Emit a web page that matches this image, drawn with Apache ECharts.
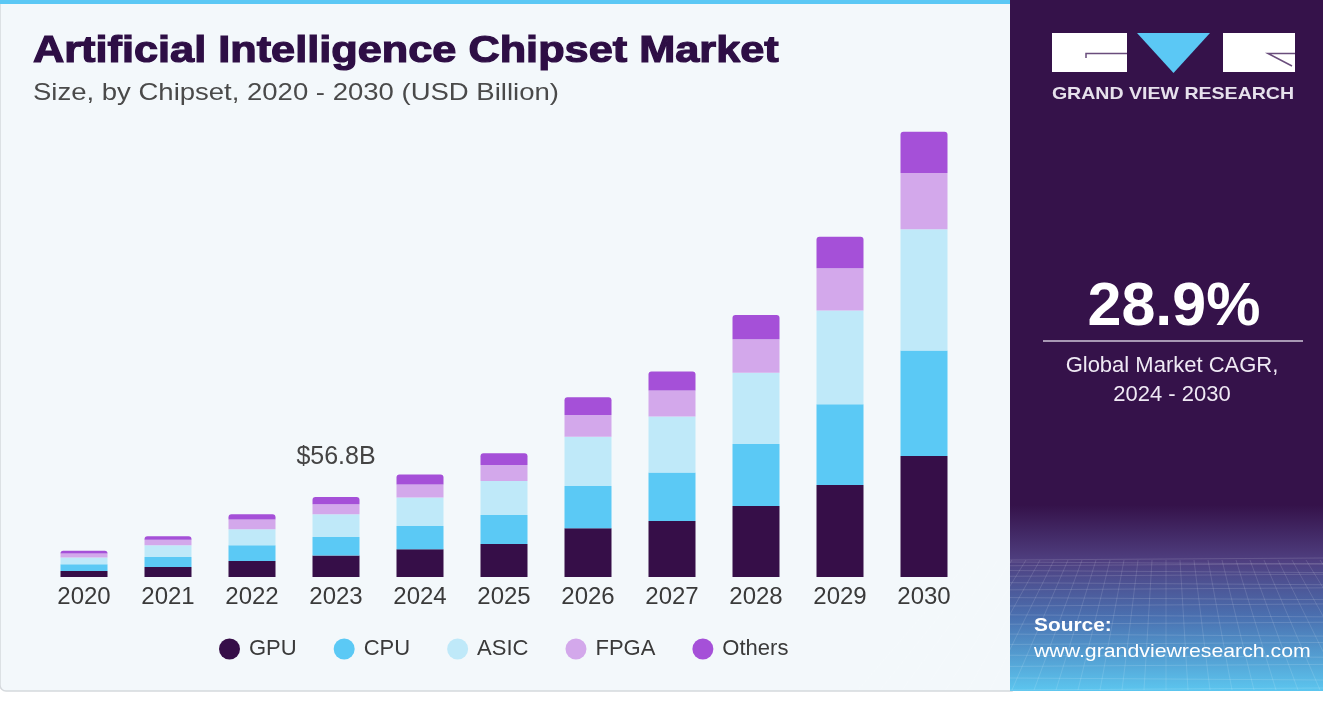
<!DOCTYPE html>
<html>
<head>
<meta charset="utf-8">
<script src="https://cdn.jsdelivr.net/npm/echarts@6/dist/echarts.min.js"></script>
<style>
html,body{margin:0;padding:0;background:#ffffff;}
#chart{width:1323px;height:706px;}
</style>
</head>
<body>
<div id="chart"></div>
<script>
// ---- data (USD Billion) ----
const years  = ['2020','2021','2022','2023','2024','2025','2026','2027','2028','2029','2030'];
const gpu    = [4.3, 7.1, 11.4, 15.2, 19.7, 23.4, 34.6, 39.8, 50.4, 65.3, 85.9];
const cpu    = [4.8, 7.1, 11.1, 13.2, 16.5, 20.6, 30.0, 34.3, 44.0, 57.3, 74.8];
const asic   = [4.8, 8.3, 11.4, 16.1, 20.2, 24.1, 35.0, 39.8, 50.6, 66.5, 86.2];
const fpga   = [2.8, 4.0, 6.9, 7.1, 9.2, 11.4, 15.4, 18.5, 23.7, 30.1, 39.8];
const others = [1.9, 2.4, 3.8, 5.2, 7.1, 8.3, 12.6, 13.5, 17.3, 22.4, 29.3];
const seriesNames = ['GPU','CPU','ASIC','FPGA','Others'];
const calloutYear = '2023';
const calloutText = '$56.8B';
const titleText = 'Artificial Intelligence Chipset Market';
const subtitleText = 'Size, by Chipset, 2020 - 2030 (USD Billion)';
const cagrText = '28.9%';
const cagrLabel1 = 'Global Market CAGR,';
const cagrLabel2 = '2024 - 2030';
const sourceLabel = 'Source:';
const sourceUrl = 'www.grandviewresearch.com';
const brandText = 'GRAND VIEW RESEARCH';

const colors = ['#360e48','#5bc9f5','#bfe9f9','#d3a8eb','#a550d8'];
const FONT = '"Liberation Sans", Arial, Helvetica, sans-serif';

const chart = echarts.init(document.getElementById('chart'), null, {renderer:'canvas'});

// decorative perspective grid for the right panel
const deco = [];
for (let k = 0; k <= 16; k++) {
  const y = 560 + 130 * Math.pow(k / 16, 1.5);
  deco.push({type:'line', z:-8, silent:true, shape:{x1:1010,y1:y,x2:1323,y2:y + (k%2? 2:-2)},
    style:{stroke:'rgba(255,255,255,0.14)', lineWidth:1}});
}
for (let k = -14; k <= 14; k++) {
  const xb = 1166 + k * 22;
  const xt = 1166 + k * 14;
  deco.push({type:'line', z:-8, silent:true, shape:{x1:xt,y1:560,x2:xb,y2:690},
    style:{stroke:'rgba(255,255,255,0.12)', lineWidth:1}});
}

const seriesData = [gpu, cpu, asic, fpga, others];
const calloutIdx = years.indexOf(calloutYear);

const option = {
  backgroundColor: '#ffffff',
  animation: false,
  color: colors,
  grid: {left: 42, right: 357, top: 98, bottom: 129, containLabel: false, outerBoundsMode: 'none'},
  xAxis: {
    type: 'category',
    data: years,
    axisLine: {show: false},
    axisTick: {show: false},
    splitLine: {show: false},
    axisLabel: {color: '#3a3a3a', fontSize: 24, fontFamily: FONT, margin: 8}
  },
  yAxis: {
    type: 'value', min: 0, max: 340,
    show: false,
    splitLine: {show: false}
  },
  legend: {
    left: 219, top: 638,
    padding: 0,
    icon: 'circle',
    itemWidth: 21, itemHeight: 21,
    itemGap: 37,
    data: seriesNames,
    textStyle: {color: '#3a3a3a', fontSize: 22, fontFamily: FONT, padding: [0,0,0,4]}
  },
  series: seriesNames.map((name, si) => ({
    name: name,
    type: 'bar',
    stack: 'total',
    barWidth: 47,
    itemStyle: {color: colors[si], borderRadius: si === 4 ? [3,3,0,0] : 0},
    emphasis: {disabled: true},
    data: seriesData[si].map((v, i) => (si === 4 && i === calloutIdx) ? {
      value: v,
      label: {show: true, position: 'top', distance: 27, formatter: calloutText,
              color: '#444444', fontSize: 25, fontFamily: FONT}
    } : v)
  })),
  graphic: [
    // left panel
    {type:'rect', z:-10, silent:true, shape:{x:0,y:0,width:1012,height:691,r:[0,0,0,6]},
     style:{fill:'#f3f8fb', stroke:'#d5d9dd', lineWidth:1.5}},
    {type:'rect', z:-9, silent:true, shape:{x:0,y:0,width:1010,height:4},
     style:{fill:'#5bc8f5'}},
    // right panel
    {type:'rect', z:-10, silent:true, shape:{x:1010,y:0,width:313,height:691},
     style:{fill:'#35124a'}},
    {type:'rect', z:-9, silent:true, shape:{x:1010,y:505,width:313,height:186},
     style:{fill:{type:'linear',x:0,y:0,x2:0,y2:1,colorStops:[
       {offset:0,color:'#35124a'},
       {offset:0.3,color:'#4f3f80'},
       {offset:0.6,color:'#4a70b0'},
       {offset:1,color:'#5cc6ef'}]}}},
    ...deco,
    // logo
    {type:'rect', z:20, silent:true, shape:{x:1052,y:33,width:75,height:39}, style:{fill:'#ffffff'}},
    {type:'polyline', z:21, silent:true, shape:{points:[[1086,58],[1086,53.5],[1127,53.5]]},
     style:{stroke:'#6a4d7c', lineWidth:1.5, fill:null}},
    {type:'polygon', z:20, silent:true, shape:{points:[[1137,33],[1210,33],[1173.5,73]]},
     style:{fill:'#5bc8f5'}},
    {type:'rect', z:20, silent:true, shape:{x:1223,y:33,width:72,height:39}, style:{fill:'#ffffff'}},
    {type:'polyline', z:21, silent:true, shape:{points:[[1295,53.5],[1268,53.5],[1292,66]]},
     style:{stroke:'#6a4d7c', lineWidth:1.5, fill:null}},
    {type:'text', z:20, silent:true, x:1173, y:94, scaleX:1.15,
     style:{text:brandText, fill:'#e6e1ec', font:'bold 17px ' + FONT, align:'center', verticalAlign:'middle'}},
    // CAGR
    {type:'text', z:20, silent:true, x:1174, y:308,
     style:{text:cagrText, fill:'#ffffff', font:'bold 61px ' + FONT, align:'center', verticalAlign:'middle'}},
    {type:'line', z:20, silent:true, shape:{x1:1043,y1:341,x2:1303,y2:341},
     style:{stroke:'#cfc6d8', lineWidth:1.5}},
    {type:'text', z:20, silent:true, x:1172, y:366,
     style:{text:cagrLabel1, fill:'#efe9f4', font:'22px ' + FONT, align:'center', verticalAlign:'middle'}},
    {type:'text', z:20, silent:true, x:1172, y:395,
     style:{text:cagrLabel2, fill:'#efe9f4', font:'22px ' + FONT, align:'center', verticalAlign:'middle'}},
    // source
    {type:'text', z:20, silent:true, x:1034, y:626, scaleX:1.1,
     style:{text:sourceLabel, fill:'#ffffff', font:'bold 19px ' + FONT, align:'left', verticalAlign:'middle'}},
    {type:'text', z:20, silent:true, x:1034, y:652, scaleX:1.12,
     style:{text:sourceUrl, fill:'#ffffff', font:'19px ' + FONT, align:'left', verticalAlign:'middle'}},
    // titles
    {type:'text', z:20, silent:true, x:33, y:52, scaleX:1.17,
     style:{text:titleText, fill:'#2e0e45', stroke:'#2e0e45', lineWidth:1.2, font:'bold 37px ' + FONT, align:'left', verticalAlign:'middle'}},
    {type:'text', z:20, silent:true, x:33, y:93, scaleX:1.146,
     style:{text:subtitleText, fill:'#4a4a4a', font:'24px ' + FONT, align:'left', verticalAlign:'middle'}}
  ]
};
chart.setOption(option);
</script>
</body>
</html>
